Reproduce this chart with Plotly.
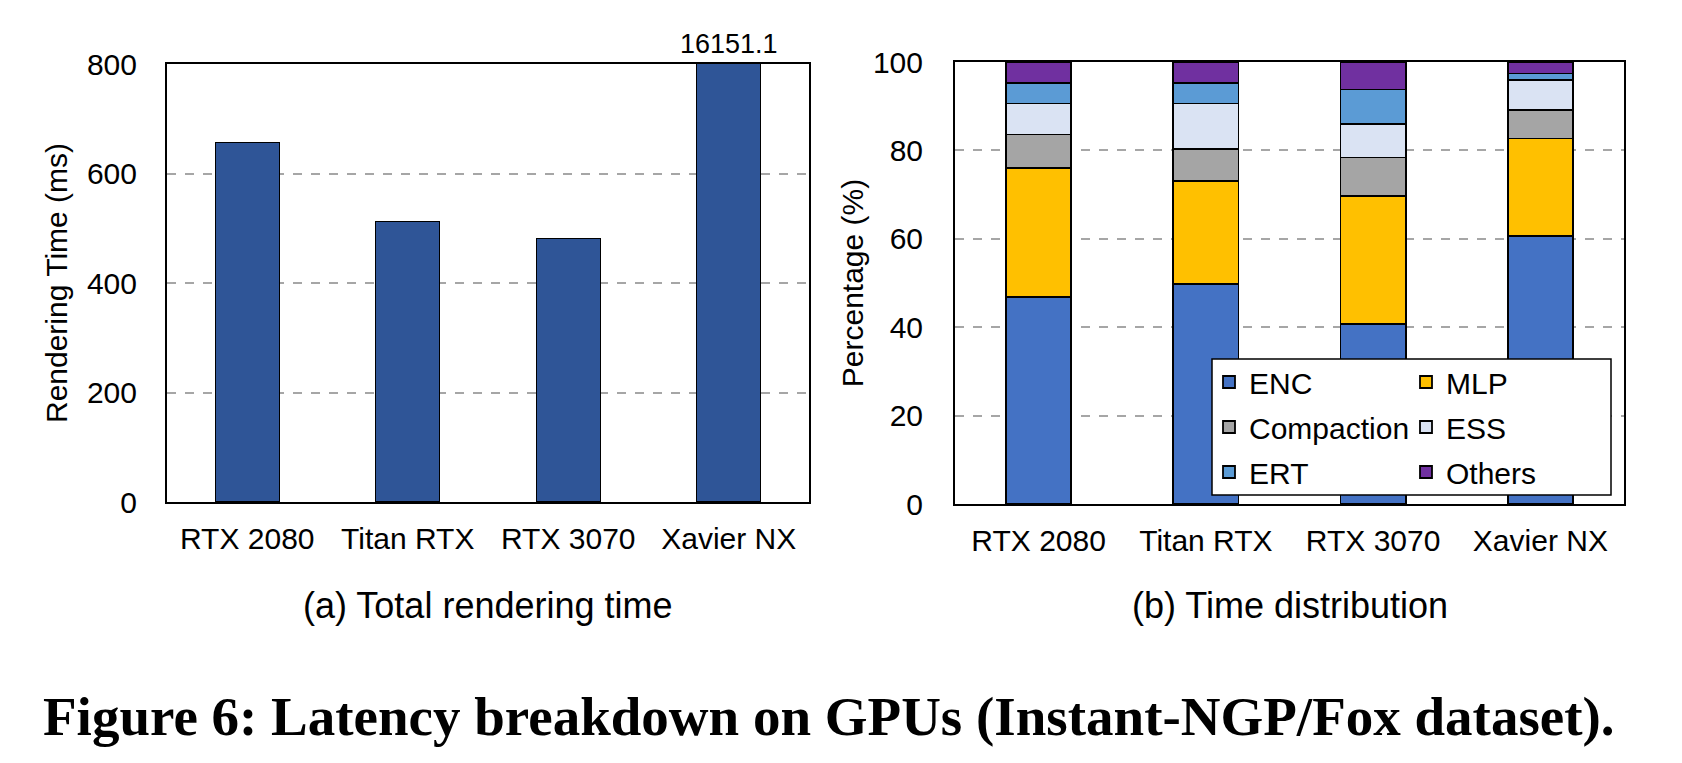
import plotly.graph_objects as go

# values
gpus = ["RTX 2080", "Titan RTX", "RTX 3070", "Xavier NX"]
render_ms = [656, 513, 481, 16151.1]

components = ["ENC", "MLP", "Compaction", "ESS", "ERT", "Others"]
enc = [46.9, 49.8, 40.8, 60.6]
mlp = [29.2, 23.3, 28.8, 22.1]
compaction = [7.5, 7.3, 8.8, 6.5]
ess = [7.0, 10.2, 7.6, 6.7]
ert = [4.7, 4.7, 7.8, 1.5]
others = [4.7, 4.7, 6.2, 2.6]
shares = [enc, mlp, compaction, ess, ert, others]

colors = ["#4472C4", "#FFC000", "#A5A5A5", "#DAE3F3", "#5B9BD5", "#7030A0"]
legend_of = ["legend", "legend", "legend2", "legend2", "legend3", "legend3"]

# page body has an 8px margin, so work in screen pixels and convert
W, H, OFF = 1666, 747, 8
def xp(px):
    return (px - OFF) / W
def yp(py):
    return 1 - (py - OFF) / H

SANS = "Liberation Sans, Arial, sans-serif"

fig = go.Figure()

fig.add_trace(go.Bar(x=gpus, y=render_ms, width=0.4, showlegend=False,
                     marker=dict(color="#2F5597", line=dict(color="black", width=1.2)),
                     xaxis="x", yaxis="y"))

for name, vals, col, lg in zip(components, shares, colors, legend_of):
    fig.add_trace(go.Bar(x=gpus, y=vals, name=name, width=0.39, legend=lg,
                         marker=dict(color=col, line=dict(color="black", width=1.8)),
                         xaxis="x2", yaxis="y2"))

axis_common = dict(showline=True, linecolor="black", linewidth=2, mirror=True,
                   ticks="", zeroline=False, automargin=False,
                   tickfont=dict(size=30, color="black"))

fig.update_layout(
    width=W, height=H,
    margin=dict(l=0, r=0, t=0, b=0, autoexpand=False),
    paper_bgcolor="white", plot_bgcolor="white",
    font=dict(family=SANS, color="black"),
    barmode="stack",
    xaxis=dict(domain=[xp(167), xp(809)], showgrid=False, ticklabelstandoff=9, **axis_common),
    yaxis=dict(domain=[yp(502), yp(64)], range=[0, 800], dtick=200,
               showgrid=True, gridcolor="#A6A6A6", griddash="dash", gridwidth=1.5,
               ticklabelstandoff=22,
               title=dict(text="Rendering Time (ms)", font=dict(size=30), standoff=10),
               **axis_common),
    xaxis2=dict(domain=[xp(955), xp(1624)], showgrid=False, ticklabelstandoff=9,
                anchor="y2", **axis_common),
    yaxis2=dict(domain=[yp(504), yp(62)], range=[0, 100], dtick=20,
                showgrid=True, gridcolor="#A6A6A6", griddash="dash", gridwidth=1.5,
                ticklabelstandoff=24, anchor="x2",
                title=dict(text="Percentage (%)", font=dict(size=30), standoff=0),
                **axis_common),
    showlegend=True,
)

row_y = {"legend": 382, "legend2": 427, "legend3": 472}
for lg, py in row_y.items():
    fig.update_layout({lg: dict(orientation="h", x=xp(1209), y=yp(py),
                                xanchor="left", yanchor="middle", traceorder="normal",
                                entrywidth=152, entrywidthmode="pixels",
                                bgcolor="rgba(0,0,0,0)", borderwidth=0,
                                font=dict(size=30, family=SANS),
                                itemclick=False, itemdoubleclick=False)})

# legend frame
fig.add_shape(type="rect", xref="paper", yref="paper",
              x0=xp(1212), x1=xp(1611), y0=yp(495), y1=yp(359),
              line=dict(color="black", width=1.5), fillcolor="white", layer="above")

# value of the clipped bar
fig.add_annotation(x=gpus[3], y=800, xref="x", yref="y", text=f"{render_ms[3]}",
                   showarrow=False, yanchor="bottom", yshift=3,
                   font=dict(size=27, family=SANS))

fig.add_annotation(x=(xp(167) + xp(809)) / 2, y=yp(605), xref="paper", yref="paper",
                   xanchor="center", yanchor="middle",
                   text="(a) Total rendering time", showarrow=False,
                   font=dict(size=36, family=SANS))
fig.add_annotation(x=(xp(955) + xp(1624)) / 2, y=yp(605), xref="paper", yref="paper",
                   xanchor="center", yanchor="middle",
                   text="(b) Time distribution", showarrow=False,
                   font=dict(size=36, family=SANS))

fig.add_annotation(x=xp(829), y=yp(716), xref="paper", yref="paper",
                   xanchor="center", yanchor="middle",
                   text="Figure 6: Latency breakdown on GPUs (Instant-NGP/Fox dataset).",
                   showarrow=False,
                   font=dict(size=55, family="Liberation Serif, Times New Roman, serif",
                             weight="bold"))

fig.write_html("out.html")
